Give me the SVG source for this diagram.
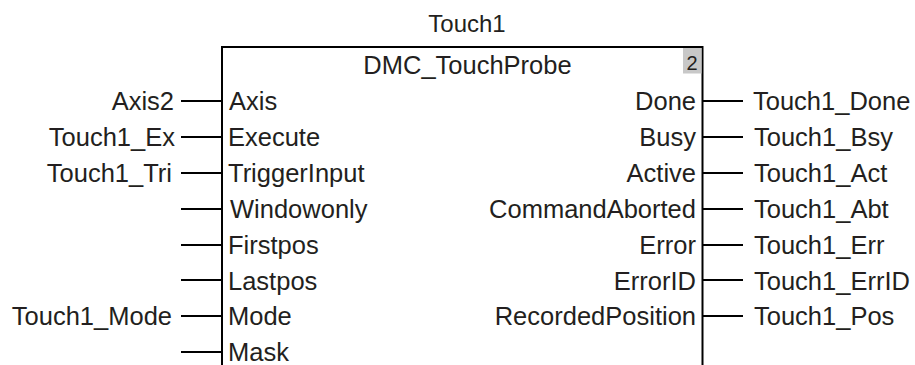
<svg xmlns="http://www.w3.org/2000/svg" width="915" height="365" viewBox="0 0 915 365">
<style>
text{font-family:"Liberation Sans",Arial,sans-serif;font-size:25.5px;fill:#231f20}
.r{text-anchor:end}
.c{text-anchor:middle}
.w{stroke:#000;stroke-width:1.8;fill:none}
.b{stroke:#000;stroke-width:2;fill:none}
</style>
<rect width="915" height="365" fill="#fff"/>
<g id="block">
<text class="c" x="467" y="32" style="font-size:24px">Touch1</text>
<path class="b" d="M222,365 V47 H702.5 V365"/>
<rect x="683" y="48" width="18.5" height="25.5" fill="#c8c8c8"/>
<text class="c" x="692" y="69.5" style="font-size:20px">2</text>
<text class="c" x="467.5" y="74">DMC_TouchProbe</text>
<text x="229" y="110">Axis</text>
<text x="228" y="146">Execute</text>
<text x="228" y="182">TriggerInput</text>
<text x="230" y="218">Windowonly</text>
<text x="228" y="254">Firstpos</text>
<text x="228" y="290">Lastpos</text>
<text x="228" y="325">Mode</text>
<text x="228" y="361">Mask</text>
<text class="r" x="696" y="110">Done</text>
<text class="r" x="696" y="146">Busy</text>
<text class="r" x="696" y="182">Active</text>
<text class="r" x="696" y="218">CommandAborted</text>
<text class="r" x="696" y="254">Error</text>
<text class="r" x="696" y="290">ErrorID</text>
<text class="r" x="696" y="325">RecordedPosition</text>
</g>
<g id="connectors">
<path class="w" d="M181,101 H222 M181,137 H222 M181,173 H222 M181,209 H222 M181,245 H222 M181,280 H222 M181,316 H222 M181,352 H222"/>
<path class="w" d="M702,101 H743 M702,137 H743 M702,173 H743 M702,209 H743 M702,245 H743 M702,280 H743 M702,316 H743"/>
</g>
<g id="labels">
<text class="r" x="174" y="110">Axis2</text>
<text class="r" x="175" y="146">Touch1_Ex</text>
<text class="r" x="172" y="182">Touch1_Tri</text>
<text class="r" x="172" y="325">Touch1_Mode</text>
<text x="753" y="110">Touch1_Done</text>
<text x="754" y="146">Touch1_Bsy</text>
<text x="754" y="182">Touch1_Act</text>
<text x="754" y="218">Touch1_Abt</text>
<text x="754" y="254">Touch1_Err</text>
<text x="754" y="290">Touch1_ErrID</text>
<text x="754" y="325">Touch1_Pos</text>
</g>
</svg>
